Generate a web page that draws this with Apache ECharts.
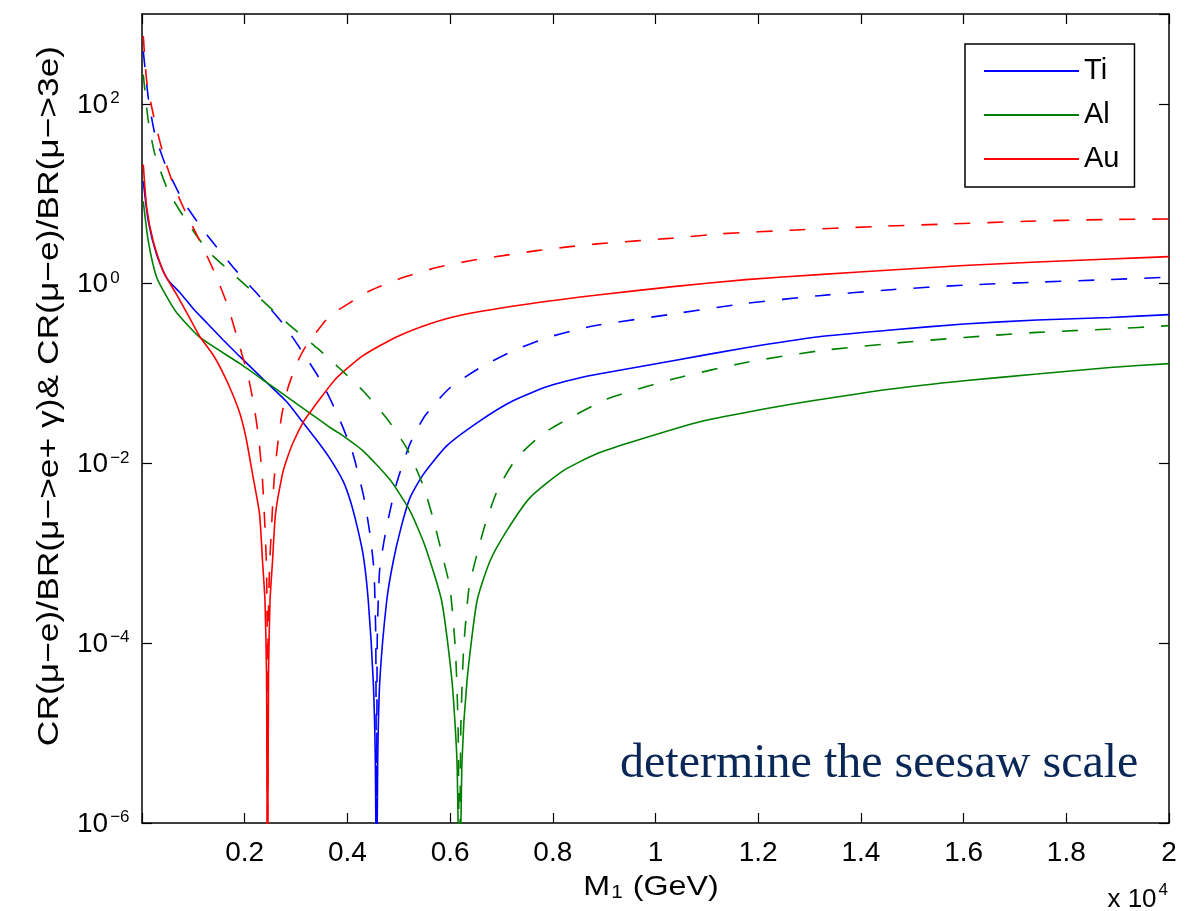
<!DOCTYPE html>
<html>
<head>
<meta charset="utf-8">
<title>CR / BR ratios vs M1</title>
<script src="https://cdn.jsdelivr.net/npm/echarts@6/dist/echarts.min.js"></script>
<style>
  html, body { margin: 0; padding: 0; background: #fff; }
  #chart { width: 1201px; height: 911px; }
</style>
</head>
<body>
<div id="chart"></div>
<script>
// M1 in GeV, ratio values. Solid: CR(mu-e)/BR(mu->e gamma); dashed: CR(mu-e)/BR(mu->3e)
const tiSolid = [
  [25,13.8],[123,4.94],[286,2.10],[487,1.14],[740,0.794],[999,0.527],[1260,0.368],[1577,0.238],
  [1908,0.154],[2428,0.0796],[2818,0.0485],[3135,0.0285],[3427,0.0174],[3661,0.0113],[3914,0.0064],
  [4051,0.00394],[4187,0.00202],[4310,9.35e-4],[4407,2.95e-4],[4503,3.79e-5],[4544,4.88e-6],[4567,1e-7],
  [4590,4.88e-6],[4631,3.79e-5],[4765,2.95e-4],[4894,8.22e-4],[5053,0.00202],[5219,0.00414],[5472,0.00746],
  [5934,0.0157],[6582,0.0298],[7225,0.0498],[7881,0.0713],[8530,0.0898],[8919,0.0995],[10341,0.139],
  [11762,0.194],[13184,0.257],[14586,0.305],[16008,0.356],[17429,0.394],[18851,0.421],[20000,0.452]
];
const alSolid = [
  [25,8.25],[123,2.96],[286,1.17],[481,0.717],[676,0.475],[1129,0.252],[1908,0.129],[2428,0.0796],
  [3207,0.0385],[3661,0.0251],[3856,0.0214],[4304,0.0138],[4830,0.00657],[5219,0.00297],[5511,0.00121],
  [5836,2.95e-4],[6037,3.79e-5],[6134,4.88e-6],[6183,1e-7],[6232,4.88e-6],[6329,3.79e-5],[6524,2.95e-4],
  [6777,8.22e-4],[7102,0.00178],[7556,0.00417],[8199,0.00827],[8855,0.0128],[9503,0.0171],[10866,0.0291],
  [12035,0.0395],[12814,0.0473],[14586,0.0672],[16008,0.0832],[17429,0.0987],[18851,0.117],[20000,0.129]
];
const auSolid = [
  [25,21.1],[92,7.02],[220,2.94],[415,1.36],[676,0.754],[935,0.408],[1129,0.257],[1383,0.162],
  [1577,0.102],[1753,0.0611],[1908,0.0357],[2025,0.0193],[2152,0.00766],[2288,0.00275],[2347,8.22e-4],
  [2395,2.95e-4],[2425,4.66e-5],[2444,1e-7],[2464,4.66e-5],[2493,2.95e-4],[2542,8.22e-4],[2600,0.00275],
  [2736,0.00766],[2824,0.0113],[2941,0.0170],[3135,0.0285],[3272,0.0369],[3466,0.0524],[3792,0.0898],
  [4304,0.158],[4966,0.257],[5609,0.359],[6251,0.452],[7556,0.599],[8919,0.754],[10341,0.926],
  [11762,1.108],[13184,1.26],[14586,1.42],[16008,1.59],[17429,1.74],[18851,1.88],[20000,2.00]
];
const tiDashed = [
  [25,386],[123,117],[253,45.6],[481,19.4],[804,8.25],[1260,3.51],[1844,1.37],[2278,0.735],[2746,0.359],
  [3135,0.170],[3505,0.0790],[3817,0.0339],[4090,0.0138],[4310,0.00447],[4440,0.00164],[4518,6.37e-4],
  [4553,1.06e-4],[4567,1e-7],[4581,1.06e-4],[4626,6.37e-4],[4713,0.00137],[4830,0.00297],[4966,0.00624],
  [5219,0.0165],[5511,0.0339],[5998,0.0695],[6582,0.116],[7225,0.179],[7881,0.250],[8530,0.315],
  [8919,0.349],[10341,0.460],[11762,0.604],[13184,0.735],[14586,0.857],[16008,0.962],[17429,1.04],
  [18851,1.11],[20000,1.18]
];
const alDashed = [
  [25,212],[123,64.2],[253,27.3],[512,10.7],[870,4.94],[1291,2.29],[1831,1.20],[2362,0.635],[2882,0.341],
  [3427,0.189],[3856,0.113],[4304,0.0643],[4771,0.0314],[5161,0.0146],[5492,0.00535],[5686,0.00224],
  [5842,9.84e-4],[5998,4.12e-4],[6105,8.19e-5],[6157,1.05e-5],[6183,1e-7],[6208,1.05e-5],[6261,8.19e-5],
  [6368,4.12e-4],[6524,9.84e-4],[6699,0.00224],[6933,0.00521],[7297,0.0115],[7809,0.0214],[8335,0.0322],
  [9055,0.0520],[10341,0.0868],[11762,0.133],[13184,0.179],[14586,0.216],[16008,0.252],[17429,0.287],
  [18851,0.313],[20000,0.341]
];
const auDashed = [
  [25,568],[92,179],[220,76.2],[415,27.3],[610,12.7],[870,5.87],[1163,2.72],[1455,1.17],[1681,0.541],
  [1908,0.195],[2064,0.0946],[2181,0.0438],[2278,0.0179],[2347,0.0064],[2395,0.00192],[2425,6.88e-4],
  [2438,1.06e-4],[2444,1e-7],[2454,1.06e-4],[2483,6.88e-4],[2522,0.00192],[2571,0.0064],[2639,0.0157],
  [2726,0.0357],[2843,0.0695],[3013,0.129],[3174,0.194],[3402,0.292],[3661,0.440],[4115,0.647],
  [4440,0.836],[5083,1.17],[5739,1.51],[6387,1.80],[7030,2.05],[7686,2.33],[8335,2.58],[8919,2.79],
  [10341,3.21],[11256,3.58],[12750,3.96],[14236,4.31],[15729,4.62],[17215,4.94],[18708,5.16],[20000,5.25]
];

const legendNames = ['Ti', 'Al', 'Au'];
const xLabelScale = 1e4;          // tick labels shown in units of 10^4 GeV
const yExponentsShown = [-6, -4, -2, 0, 2];

const FONT = '"Liberation Sans", Arial, Helvetica, sans-serif';
const BLUE = '#0000ff', GREEN = '#008000', RED = '#ff0000';
const DASH = [16, 17];

function curve(name, data, color, dashed) {
  return {
    name, type: 'line', data, symbol: 'none', showSymbol: false, clip: true,
    smooth: 0.2,
    lineStyle: { color, width: 1.6, type: dashed ? DASH : 'solid' },
    itemStyle: { color }, emphasis: { disabled: true }
  };
}

const axisLine = { show: true, onZero: false, lineStyle: { color: '#000', width: 1.5 } };
const axisTick = { show: true, inside: true, length: 10, lineStyle: { color: '#000', width: 1.2 } };

function xFmt(v) {
  if (v === 0) return '';
  return String(+(v / xLabelScale).toFixed(1));
}
function yFmt(v) {
  const e = Math.round(Math.log10(v));
  if (yExponentsShown.indexOf(e) < 0) return '';
  const s = e < 0 ? '\u2212' + (-e) : String(e);
  return '{b|10}{e|' + s + '}';
}

const chart = echarts.init(document.getElementById('chart'), null, { renderer: 'canvas' });
chart.setOption({
  animation: false,
  backgroundColor: '#fff',
  grid: { left: 142, right: 32, top: 14, bottom: 88, show: false },
  xAxis: [
    { type: 'value', min: 0, max: 20000, interval: 2000, position: 'bottom',
      axisLine, axisTick, splitLine: { show: false },
      axisLabel: { formatter: xFmt, fontSize: 28, fontFamily: FONT, color: '#000', margin: 16 } },
    { type: 'value', min: 0, max: 20000, interval: 2000, position: 'top',
      axisLine, axisTick, splitLine: { show: false }, axisLabel: { show: false } }
  ],
  yAxis: [
    { type: 'log', logBase: 10, min: 1e-6, max: 1e3, interval: 2, position: 'left',
      axisLine, axisTick, splitLine: { show: false },
      axisLabel: { formatter: yFmt, align: 'left', margin: 65, showMaxLabel: false,
        rich: {
          b: { fontSize: 28, fontFamily: FONT, color: '#000', lineHeight: 28, padding: [11, 0, 9, 0] },
          e: { fontSize: 17, fontFamily: FONT, color: '#000', lineHeight: 18, verticalAlign: 'top', padding: [0, 0, 0, 2] }
        } } },
    { type: 'log', logBase: 10, min: 1e-6, max: 1e3, interval: 2, position: 'right',
      axisLine, axisTick, splitLine: { show: false }, axisLabel: { show: false } }
  ],
  legend: {
    data: legendNames, orient: 'vertical', left: 965, top: 44,
    padding: [12, 15, 13, 18], itemGap: 14, itemWidth: 95, itemHeight: 16, itemTextGap: 14,
    textStyle: { fontSize: 29, fontFamily: FONT, color: '#000', lineHeight: 30 },
    itemStyle: { color: 'rgba(0,0,0,0)', borderWidth: 0, opacity: 0 },
    borderColor: '#000', borderWidth: 1.5, borderRadius: 0, backgroundColor: '#fff',
    selectedMode: false
  },
  graphic: [
    { type: 'text', x: 50, y: 396, rotation: Math.PI / 2, scaleX: 1.18, silent: true,
      style: { text: 'CR(\u03bc\u2212e)/BR(\u03bc\u2212>e+ \u03b3)& CR(\u03bc\u2212e)/BR(\u03bc\u2212>3e)',
        font: '30px ' + FONT, fill: '#000', align: 'center', verticalAlign: 'middle' } },
    { type: 'text', x: 651, y: 887, scaleX: 1.15, silent: true,
      style: { text: '{m|M}{s|1}{m| (GeV)}', align: 'center', verticalAlign: 'middle',
        rich: { m: { fontSize: 28, fontFamily: FONT, fill: '#000', lineHeight: 30 },
                s: { fontSize: 18, fontFamily: FONT, fill: '#000', lineHeight: 30, verticalAlign: 'bottom', padding: [16, 1, 0, 1] } } } },
    { type: 'text', x: 1168, y: 895, silent: true,
      style: { text: '{m|x 10}{s|4}', align: 'right', verticalAlign: 'middle',
        rich: { m: { fontSize: 26, fontFamily: FONT, fill: '#000', lineHeight: 26, padding: [10, 0, 0, 0] },
                s: { fontSize: 17, fontFamily: FONT, fill: '#000', lineHeight: 18, verticalAlign: 'top', padding: [0, 0, 0, 2] } } } },
    { type: 'text', x: 620, y: 764, silent: true,
      style: { text: 'determine the seesaw scale', font: '48px "Liberation Serif", "Times New Roman", serif',
        fill: '#0a2857', align: 'left', verticalAlign: 'middle' } }
  ],
  series: [
    curve('Ti', tiSolid, BLUE, false),
    curve('Al', alSolid, GREEN, false),
    curve('Au', auSolid, RED, false),
    curve('Ti \u03bc\u21923e', tiDashed, BLUE, true),
    curve('Al \u03bc\u21923e', alDashed, GREEN, true),
    curve('Au \u03bc\u21923e', auDashed, RED, true)
  ]
});
</script>
</body>
</html>
